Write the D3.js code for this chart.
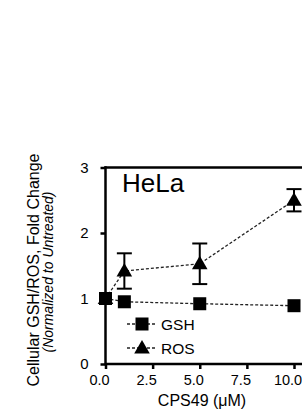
<!DOCTYPE html>
<html lang="en">
<head>
<meta charset="utf-8">
<title>HeLa GSH/ROS</title>
<script src="https://cdn.jsdelivr.net/npm/d3@7/dist/d3.min.js"></script>
<style>
  html, body { margin: 0; padding: 0; background: #fff; }
  text { font-family: Arial, "Liberation Sans", sans-serif; fill: #000; }
</style>
</head>
<body>
<div id="chart"></div>
<script>
// data
const doses = [0, 1, 5, 10];               // CPS49 (uM)
const gsh = [1.0, 0.95, 0.92, 0.89];
const ros = [1.0, 1.42, 1.53, 2.50];
const rosErr = [0, 0.27, 0.31, 0.17];
const xTicks = [0, 2.5, 5, 7.5, 10];
const yTicks = [0, 1, 2, 3];

const W = 302, H = 419;
const svg = d3.select("#chart").append("svg")
    .attr("width", W).attr("height", H);

const x = d3.scaleLinear().domain([0, 10]).range([105.5, 294]);
const y = d3.scaleLinear().domain([0, 3]).range([364, 167.5]);

// top frame line
svg.append("line")
    .attr("x1", x(0) - 1).attr("x2", W + 10)
    .attr("y1", y(3)).attr("y2", y(3))
    .attr("stroke", "#000").attr("stroke-width", 2.5);

// axes
const yAxis = svg.append("g")
    .attr("transform", "translate(" + x(0) + ",0)")
    .call(d3.axisLeft(y).tickValues(yTicks).tickFormat(d3.format("d")).tickSize(5).tickPadding(12));
const xAxis = svg.append("g")
    .attr("transform", "translate(0," + y(0) + ")")
    .call(d3.axisBottom(x).tickValues(xTicks).tickFormat(d3.format(".1f")).tickSize(5).tickPadding(6));

[yAxis, xAxis].forEach(g => {
    g.select(".domain").remove();
    g.selectAll(".tick line").attr("stroke-width", 2.5);
    g.selectAll("text").style("font-size", "15px").attr("font-family", null);
});
xAxis.selectAll(".tick text").attr("dx", -6.5).style("font-size", "14.5px");
svg.append("line").attr("x1", x(0)).attr("x2", x(0))
    .attr("y1", y(3) - 1.25).attr("y2", y(0) + 1.25)
    .attr("stroke", "#000").attr("stroke-width", 2.5);
svg.append("line").attr("x1", x(0)).attr("x2", W + 10)
    .attr("y1", y(0)).attr("y2", y(0))
    .attr("stroke", "#000").attr("stroke-width", 2.5);

// axis titles
svg.append("text")
    .attr("x", 202).attr("y", 406)
    .attr("text-anchor", "middle")
    .style("font-size", "16px")
    .text("CPS49 (\u03BCM)");

svg.append("text")
    .attr("transform", "translate(39,270) rotate(-90)")
    .attr("text-anchor", "middle")
    .style("font-size", "16px")
    .text("Cellular GSH/ROS, Fold Change");
svg.append("text")
    .attr("transform", "translate(53,272) rotate(-90)")
    .attr("text-anchor", "middle")
    .style("font-size", "14px")
    .style("font-style", "italic")
    .text("(Normalized to Untreated)");

// panel label
svg.append("text")
    .attr("x", 122).attr("y", 192)
    .style("font-size", "26px")
    .text("HeLa");

// series
const gshData = doses.map((d, i) => ({ x: d, y: gsh[i] }));
const rosData = doses.map((d, i) => ({ x: d, y: ros[i], e: rosErr[i] }));

const line = d3.line().x(d => x(d.x)).y(d => y(d.y));
const dash = "3,2";

[rosData, gshData].forEach(data => {
    svg.append("path")
        .datum(data)
        .attr("d", line)
        .attr("fill", "none")
        .attr("stroke", "#222")
        .attr("stroke-width", 1.3)
        .attr("stroke-dasharray", dash);
});

// error bars
const cap = 7.5;
const eb = svg.append("g").attr("stroke", "#000").attr("stroke-width", 2);
rosData.filter(d => d.e > 0).forEach(d => {
    eb.append("line").attr("x1", x(d.x)).attr("x2", x(d.x))
        .attr("y1", y(d.y + d.e)).attr("y2", y(d.y - d.e));
    [d.y + d.e, d.y - d.e].forEach(v => {
        eb.append("line").attr("x1", x(d.x) - cap).attr("x2", x(d.x) + cap)
            .attr("y1", y(v)).attr("y2", y(v));
    });
});

const tri = d3.symbol().type(d3.symbolTriangle).size(105);
const sq = 13;

svg.append("g").selectAll("path")
    .data(rosData).enter().append("path")
    .attr("d", tri)
    .attr("transform", d => "translate(" + x(d.x) + "," + (y(d.y) + 1) + ")")
    .attr("fill", "#000");

svg.append("g").selectAll("rect")
    .data(gshData).enter().append("rect")
    .attr("x", d => x(d.x) - sq / 2)
    .attr("y", d => y(d.y) - sq / 2)
    .attr("width", sq).attr("height", sq)
    .attr("fill", "#000");

// legend
const legend = [
    { name: "GSH", shape: "square", yy: 324 },
    { name: "ROS", shape: "triangle", yy: 348 }
];
legend.forEach(l => {
    const g = svg.append("g").attr("transform", "translate(142," + l.yy + ")");
    g.append("line").attr("x1", -15).attr("x2", 15)
        .attr("stroke", "#222").attr("stroke-width", 1.3)
        .attr("stroke-dasharray", dash);
    if (l.shape === "square") {
        g.append("rect").attr("x", -sq / 2).attr("y", -sq / 2)
            .attr("width", sq).attr("height", sq).attr("fill", "#000");
    } else {
        g.append("path").attr("d", tri).attr("transform", "translate(0,1)").attr("fill", "#000");
    }
    g.append("text").attr("x", 19).attr("y", 6)
        .style("font-size", "15.5px")
        .text(l.name);
});
</script>
</body>
</html>
